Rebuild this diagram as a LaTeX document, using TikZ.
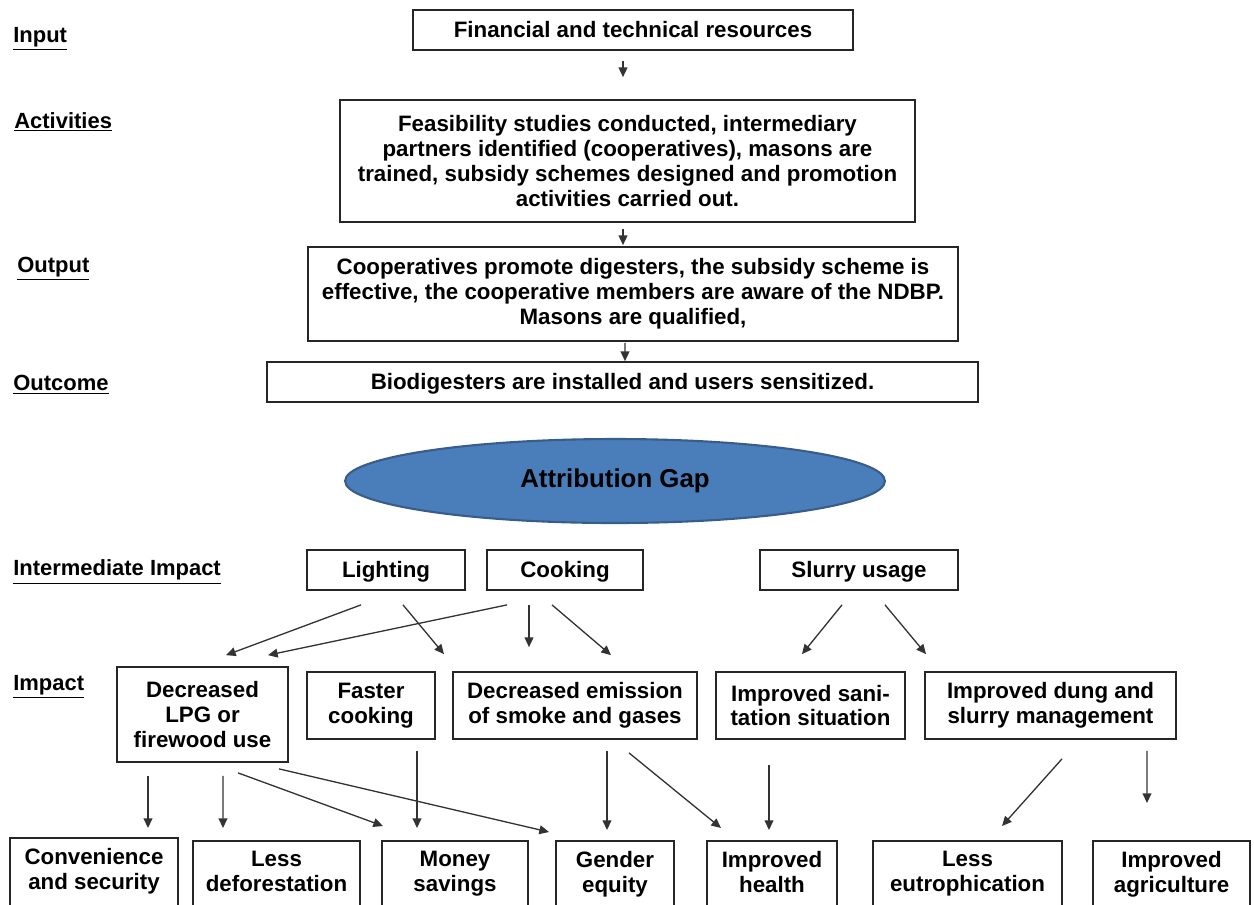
\documentclass[tikz,border=0pt]{standalone}
\usepackage{fontspec}
\setmainfont{Liberation Sans}
\usepackage{tikz}
\usetikzlibrary{positioning,arrows.meta,calc,shapes.geometric}
\usepackage{xcolor}
\definecolor{gapblue}{HTML}{4A7EBB}
\definecolor{gapline}{HTML}{385D8A}

\begin{document}
\begin{tikzpicture}[x=0.02cm,y=-0.02cm,
  every node/.style={font=\bfseries\fontsize{12.7}{14.2}\selectfont},
  box/.style={draw=black!85,line width=1pt,align=center,inner sep=1pt},
  onebox/.style={box,minimum height=0.8cm,text height=1.9ex,text depth=0.2ex},
  lowbox/.style={box,anchor=north,inner ysep=6pt,text depth=1.3cm},
  lvl/.style={anchor=west,inner sep=0pt,font=\bfseries\fontsize{12.5}{14}\selectfont},
  arr/.style={draw=black!80,line width=0.75pt,-{Triangle[length=5.5pt,width=5pt]}}]
\clip (0,0) rectangle (1254,904);
\useasboundingbox (0,0) rectangle (1254,904);
% levels
\node[lvl] (lin) at (13,39) {\underline{Input}};
\node[lvl] (lact) at (14,122) {\underline{Activities}};
\node[lvl] (lout) at (17,269) {\underline{Output}};
\node[lvl] (lcome) at (13,385) {\underline{Outcome}};
\node[lvl] (lmid) at (13,572) {\underline{Intermediate Impact}};
\node[lvl] (limp) at (13,687) {\underline{Impact}};
% chain
\node[onebox,minimum width=8.8cm] (inp) at (633,30) {Financial and technical resources};
\node[box,minimum width=11.5cm,minimum height=2.44cm] (act) at (627.5,161) {Feasibility studies conducted, intermediary\\partners identified (cooperatives), masons are\\trained, subsidy schemes designed and promotion\\activities carried out.};
\node[box,minimum width=13cm,minimum height=1.88cm] (outp) at (633,294) {Cooperatives promote digesters, the subsidy scheme is\\effective, the cooperative members are aware of the NDBP.\\Masons are qualified,};
\node[onebox,minimum width=14.22cm] (come) at (622.5,382) {Biodigesters are installed and users sensitized.};
\node[ellipse,draw=gapline,line width=1.2pt,fill=gapblue,minimum width=10.8cm,minimum height=1.68cm,font=\bfseries\fontsize{14.7}{17}\selectfont] (gap) at (615,481) {Attribution Gap};
\draw[arr] ($(inp.south)+(-10,10)$) -- ($(act.north)+(-4.5,-22)$);
\draw[arr] ($(act.south)+(-4.5,6)$) -- ($(outp.north)+(-10,-1)$);
\draw[arr] ($(outp.south)+(-8,1)$) -- ($(come.north)+(2.5,0)$);
% intermediate impact
\node[onebox,minimum width=3.16cm] (light) at (386,570) {Lighting};
\node[onebox,minimum width=3.12cm] (cook) at (565,570) {Cooking};
\node[onebox,minimum width=3.96cm] (slurry) at (859,570) {Slurry usage};
% impact
\node[box,minimum width=3.42cm,minimum height=1.9cm] (lpg) at (202.5,714.5) {Decreased\\LPG or\\firewood use};
\node[box,minimum width=2.56cm,minimum height=1.34cm] (fast) at (371,705.5) {Faster\\cooking};
\node[box,minimum width=4.88cm,minimum height=1.34cm] (smoke) at (575,705.5) {Decreased emission\\of smoke and gases};
\node[box,minimum width=3.78cm,minimum height=1.34cm] (sani) at (810.5,705.5) {Improved sani-\\tation situation};
\node[box,minimum width=5.02cm,minimum height=1.34cm] (dung) at (1050.5,705.5) {Improved dung and\\slurry management};
% final effects
\node[lowbox,minimum width=3.36cm] (conv) at (94,837) {Convenience\\and security};
\node[lowbox,minimum width=3.34cm] (defo) at (276.5,840) {Less\\deforestation};
\node[lowbox,minimum width=2.92cm] (money) at (455,840) {Money\\savings};
\node[lowbox,minimum width=2.36cm] (gender) at (615,840) {Gender\\equity};
\node[lowbox,minimum width=2.6cm] (health) at (772,840) {Improved\\health};
\node[lowbox,minimum width=3.78cm] (eutro) at (967.5,840) {Less\\eutrophication};
\node[lowbox,minimum width=3.14cm] (agri) at (1171.5,840) {Improved\\agriculture};
% links
\draw[arr] ($(light.south)+(-25,14)$) -- ($(lpg.north)+(23.5,-11)$);
\draw[arr] ($(light.south)+(17,14)$) -- ($(fast.north)+(73,-17)$);
\draw[arr] ($(cook.south)+(-58,14)$) -- ($(lpg.north)+(65.5,-11)$);
\draw[arr] ($(cook.south)+(-36,14)$) -- ($(smoke.north)+(-46,-24)$);
\draw[arr] ($(cook.south)+(-13,14)$) -- ($(smoke.north)+(36,-16)$);
\draw[arr] ($(slurry.south)+(-17,14)$) -- ($(sani.north)+(-8.5,-17)$);
\draw[arr] ($(slurry.south)+(26,14)$) -- ($(dung.north)+(-124.5,-17)$);
\draw[arr] ($(lpg.south)+(-54.5,13)$) -- ($(conv.north)+(54,-9)$);
\draw[arr] ($(lpg.south)+(20.5,13)$) -- ($(defo.north)+(-53.5,-12)$);
\draw[arr] ($(lpg.south)+(35.5,10)$) -- ($(money.north)+(-72,-14)$);
\draw[arr] ($(lpg.south)+(76.5,6)$) -- ($(gender.north)+(-66,-8)$);
\draw[arr] ($(fast.south)+(46,11)$) -- ($(money.north)+(-38,-12)$);
\draw[arr] ($(smoke.south)+(32,11)$) -- ($(gender.north)+(-8,-10)$);
\draw[arr] ($(smoke.south)+(54,13)$) -- ($(health.north)+(-51,-12)$);
\draw[arr] ($(sani.south)+(-41.5,25)$) -- ($(health.north)+(-3,-10)$);
\draw[arr] ($(dung.south)+(11.5,19)$) -- ($(eutro.north)+(34.5,-14)$);
\draw[arr] ($(dung.south)+(96.5,11)$) -- ($(agri.north)+(-24.5,-37)$);
\end{tikzpicture}
\end{document}
